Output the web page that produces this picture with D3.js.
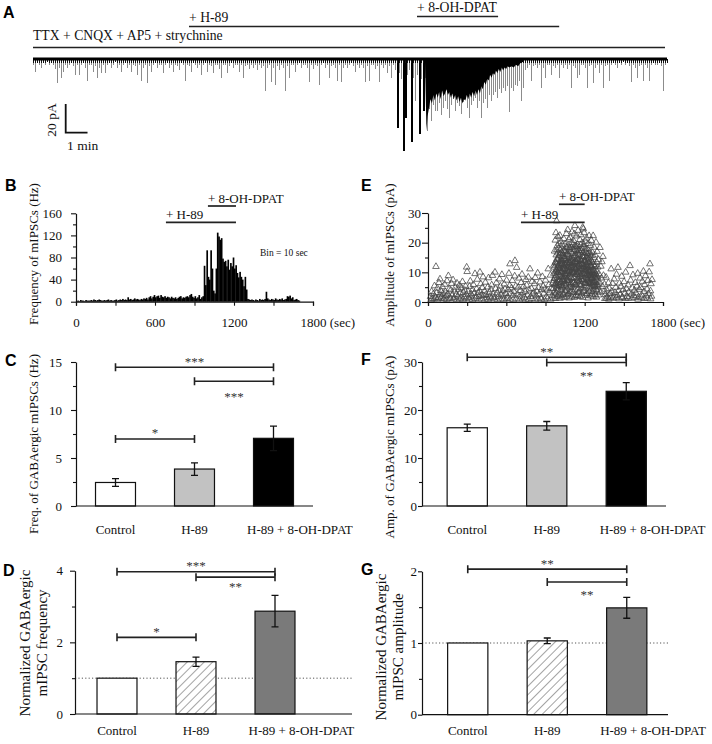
<!DOCTYPE html>
<html><head><meta charset="utf-8">
<script src="https://cdn.jsdelivr.net/npm/d3@7"></script>
<style>body{margin:0;background:#fff}</style>
</head><body><svg id="fig" width="712" height="744"></svg>
<script>
// ---------------- DATA ----------------
// Panel A: deepest downward deflection (pA) in each 5.5 s sample of the trace
const traceDt = 5.5;
const traceDepth = [
4,9,3,4,6,3,4,2,4,3, 4,7,17,6,13,9,4,6,4,3, 5,11,4,11,4,3,6,15,4,4, 9,5,13,6,10,4,10,4,3,6,
4,2,6,4,9,4,3,6,4,9, 4,5,11,4,15,6,4,17,5,9, 4,3,6,4,4,10,4,3,6,4, 9,4,5,8,3,4,15,4,5,9,
3,4,6,4,11,4,3,9,4,5, 10,4,4,7,13,4,4,10,5,3, 6,4,4,9,
4,13,5,4,7,4,6,4,8,4, 6,5,22,6,4,16,6,18,5,8, 4,6,22,5,13,4,4,9,4,3, 6,4,4,6,16,4,7,4,5,18,
4,3,6,4,13,5,4,6,15,4, 16,6,4,6,4,3,5,9,4,6, 4,6,16,5,15,4,4,7,5,16, 4,6,4,10,5,13,4,
8,48,10,14,64,41,11,8,58,13,29,11,52,14,36,13,
50,35,43,32,36,36,31,39,34,29, 35,41,32,28,36,31,33,38,30,28, 34,41,32,29,27,34,29,41,31,28,
34,25,29,25,23,27,21,24,20,22, 19,37,20,22,18,19,15,29,20,
8,6,4,15,5,4,6,4,20,6, 13,4,4,11,5,6,4,13,4,6, 4,7,4,20,5,6,13,11,4,4, 6,20,5,4,17,6,4,10,4,20,
5,4,15,4,3,4,6,3,4,2, 4,3,5,16,4,6,13,5,4,15, 4,6,15,4,3,4,4,3,5,22, 4,3];
// solid (overlapping events) envelope of the burst, time (s) / depth (pA)
const coreT = [1078,1082,1085,1089,1093,1097,1101,1105,1109,1113,1117,1121,1125,1129,1133,1137,1141,1145,1149,1153,
  1157,1161,1165,1169,1173,1177,1181,1185,1189,1193,1197,1201,1205,1209,1213,1217,1221,1225,1229,1233,
  1237,1241,1245,1249,1253,1257,1261,1265,1269,1273,1277,1281,1285,1289,1293,1297,1301,1305,1310,1316,
  1322,1328,1334,1340,1348];
const coreA = [2,50,40,34,28,31,25,29,24,27,23,28,22,26,24,21,25,23,27,24,
  28,25,29,26,30,27,31,28,29,25,28,24,27,23,26,22,25,21,24,19,
  21,16,18,14,15,11,13,10,11,8,10,7,9,6,8,6,7,5,6,5,
  6,4,5,3,2];
const drugA = [
  {label:"+ 8-OH-DPAT", start:1056, end:1279, row:0},
  {label:"+ H-89", start:429, end:1447, row:1},
  {label:"TTX + CNQX + AP5 + strychnine", start:0, end:1738, row:2}];

// Panel B: mIPSC frequency (Hz), 10 s bins from 0 s
const binSize = 10;
const histFreq = [
1,2,1,3,2,2,1,3,2,2, 2,3,2,4,3,2,3,4,3,2, 2,3,2,3,4,2,3,2,2,3, 4,2,3,4,3,5,3,4,3,8,
4,5,3,4,6,4,5,4,3,5, 4,6,5,7,4,8,10,6,9,12, 8,10,11,7,12,9,8,10,7,9, 8,6,9,7,6,8,5,7,9,10,
6,8,7,9,10,8,12,14,9,7, 10,6,8,12,5,
8,10,65,30,93,45,40,93,60,20, 15,60,125,118,112,115,78,72,74,64, 76,58,70,64,80,60,66,52,44,54,
45,40,28,45,22,5,4,
3,4,3,2,4,3,2,5,3,4, 3,5,18,6,4,3,5,4,3,6, 4,3,5,4,6,3,4,5,10,9, 11,6,8,3,4,5,3,2];
const drugB = [{label:"+ 8-OH-DPAT", start:1002, end:1215}, {label:"+ H-89", start:683, end:1215}];
const drugE = [{label:"+ 8-OH-DPAT", start:1003, end:1200}, {label:"+ H-89", start:712, end:1200}];

// Panel E: individual mIPSC events [time (s), amplitude (pA)]
const ampEvents = [
[20,1.5],[28,3.2],[35,0.8],[42,2.4],[50,5.1],[58,1.2],[61,11.6],[66,2.8],[72,4.3],[78,1.0],[84,6.2],[90,2.1],[92,7.4],[98,3.5],
[104,1.4],[110,4.8],[116,2.6],[122,0.9],[128,5.6],[134,3.1],[140,1.8],[146,6.8],[152,2.3],[156,8.5],[162,4.0],[168,1.3],[174,3.7],
[180,5.9],[186,2.0],[192,7.1],[198,1.1],[204,3.3],[210,4.6],[216,2.2],[222,6.0],[228,1.6],[234,3.9],[240,5.3],[246,2.7],[252,1.0],
[258,4.4],[264,6.5],[270,2.9],[276,1.4],[282,3.6],[288,5.0],[294,2.1],[296,11.4],[300,9.9],[306,3.2],[312,1.2],[318,4.9],[324,6.7],
[330,2.4],[336,1.7],[342,3.8],[348,5.5],[354,2.6],[360,9.2],[366,1.3],[372,4.1],[378,7.3],[384,2.8],[390,1.5],[396,3.4],[398,9.7],
[404,5.8],[410,2.0],[416,4.5],[422,8.1],[428,1.8],[434,3.3],[440,6.3],[446,2.2],[452,1.1],[458,4.7],[464,7.8],[470,2.9],[476,1.6],
[482,3.9],[488,5.4],[494,8.6],[500,2.3],[506,1.2],[513,9.7],[518,4.2],[524,6.1],[530,2.7],[536,1.4],[542,3.6],[548,7.4],[554,5.0],
[560,2.1],[566,8.9],[572,3.4],[578,1.7],[584,5.7],[590,4.0],[596,2.5],[602,7.0],[608,1.3],[614,3.8],[620,9.3],[626,5.2],[628,12.5],
[634,2.6],[640,4.4],[646,6.9],[652,1.9],[658,3.2],[664,8.4],[666,13.6],[672,5.0],[679,11.3],[684,2.3],[690,4.6],[696,7.7],[702,1.6],
[708,3.5],[714,6.2],[720,9.0],[726,2.8],[732,4.9],[738,1.2],[744,3.1],[750,7.2],[756,5.3],[762,2.0],[768,8.0],[774,3.7],[781,10.8],
[786,1.5],[792,4.2],[798,6.6],[804,2.4],[810,3.0],[816,5.8],[822,7.9],[828,1.7],[834,3.3],[840,9.4],[846,4.5],[852,2.2],[858,6.4],
[864,1.0],[870,3.9],[876,8.2],[882,5.1],[888,2.6],[894,4.0],[900,7.0],[906,1.4],[912,3.6],[921,10.8],[926,5.5],[932,2.9],[938,8.7],
[944,4.3],[950,1.8],[955,6.0],
[24,0.5],[46,0.7],[70,0.4],[96,0.9],[120,0.6],[144,0.5],[170,0.8],[196,0.6],[220,0.4],[244,0.7],[268,0.5],[292,0.9],[316,0.6],
[340,0.5],[364,0.8],[388,0.4],[412,0.7],[436,0.6],[460,0.5],[484,0.9],[508,0.6],[532,0.4],[556,0.7],[580,0.5],[604,0.8],[628,0.6],
[652,0.5],[676,0.9],[700,0.4],[724,0.7],[748,0.6],[772,0.5],[796,0.8],[820,0.4],[844,0.7],[868,0.6],[892,0.5],[916,0.9],[940,0.6],
[960,4.2],[963,12.0],[966,7.5],[969,16.8],[972,2.3],[975,20.5],[978,9.8],[980,23.0],[983,5.1],[985,27.0],[988,14.2],[990,18.6],
[993,3.4],[995,21.7],[998,11.0],[1000,6.3],[1003,19.4],[1005,15.3],[1008,8.7],[1010,22.1],[1013,1.9],[1015,17.2],[1018,10.4],
[1020,20.0],[1023,4.8],[1025,13.6],[1028,18.9],[1030,7.1],[1033,16.0],[1035,2.6],[1038,11.8],[1040,21.0],[1043,5.7],[1045,14.9],
[1048,9.2],[1050,19.1],[1053,3.0],[1055,16.6],[1058,12.4],[1060,22.7],[1063,6.9],[1065,18.0],[1068,10.1],[1070,24.0],[1073,2.1],
[1075,15.7],[1078,20.8],[1080,8.3],[1083,13.0],[1085,17.9],[1088,4.5],[1090,21.4],[1093,11.2],[1095,6.1],[1098,19.7],[1100,14.6],
[1103,23.3],[1105,3.6],[1108,9.5],[1110,17.4],[1113,12.7],[1115,20.3],[1118,7.8],[1120,22.6],[1123,15.2],[1125,25.4],[1128,1.7],
[1130,10.8],[1133,18.4],[1135,5.3],[1138,21.9],[1140,13.3],[1143,8.9],[1145,19.0],[1148,16.1],[1150,23.8],[1153,2.8],[1155,11.5],
[1158,17.0],[1160,6.6],[1163,20.7],[1165,14.1],[1168,9.0],[1170,22.3],[1173,4.0],[1175,16.9],[1178,12.2],[1180,19.6],[1183,7.2],
[1185,24.8],[1188,15.0],[1189,24.3],[1192,3.3],[1194,18.2],[1196,23.0],[1199,10.6],[1201,13.8],[1204,20.1],[1206,5.9],[1209,16.4],
[1211,11.1],[1214,21.2],[1216,8.0],[1219,17.6],[1221,2.4],[1224,14.4],[1226,19.3],[1229,6.8],[1231,12.9],[1234,22.0],[1236,9.7],
[1239,15.8],[1241,4.6],[1244,18.7],[1246,11.9],[1249,7.5],[1251,20.4],[1254,13.5],[1256,3.1],[1259,16.3],[1261,9.4],[1265,22.0],
[1267,6.2],[1270,14.7],[1272,18.1],[1275,10.3],[1277,5.0],[1280,15.5],[1282,12.1],[1285,8.4],[1287,19.8],[1290,3.8],[1292,13.1],
[1295,16.7],[1297,7.0],[1300,11.4],[1303,4.4],[1306,14.0],[1310,9.1],[1313,6.4],[1317,18.0],[1320,2.9],[1324,11.7],[1328,7.7],
[1332,13.2],[1336,4.9],[1340,15.0],[1344,8.6],[1348,3.2],
[962,1.0],[967,3.0],[971,5.5],[976,0.8],[981,2.7],[986,6.0],[991,1.5],[996,4.1],[1001,2.0],[1006,5.2],[1011,0.9],[1016,3.8],
[1021,6.4],[1026,1.3],[1031,4.6],[1036,2.2],[1041,7.3],[1046,1.1],[1051,3.5],[1056,5.8],[1061,1.6],[1066,4.0],[1071,6.9],[1076,2.5],
[1081,1.0],[1086,5.0],[1091,3.2],[1096,7.9],[1101,1.4],[1106,4.7],[1111,2.8],[1116,6.2],[1121,1.2],[1126,3.9],[1131,5.6],[1136,2.0],
[1141,7.6],[1146,1.8],[1151,4.3],[1156,3.0],[1161,6.7],[1166,1.5],[1171,5.1],[1176,2.6],[1181,8.2],[1186,1.2],[1191,4.4],[1196,3.4],
[1201,6.0],[1206,1.9],[1211,5.3],[1216,2.4],[1221,7.1],[1226,1.0],[1231,4.8],[1236,3.1],[1241,6.5],[1246,1.7],[1251,4.1],[1256,2.3],
[1261,5.7],[1266,1.4],[1271,3.6],[1276,6.3],[1281,2.1],[1286,4.9],[1291,1.3],[1296,3.3],[1301,5.4],[1306,2.0],
[977,8.5],[979,12.8],[982,15.5],[984,10.2],[987,17.3],[989,8.0],[992,13.9],[994,16.2],[997,9.6],[999,14.8],[1002,12.1],[1004,17.8],
[1007,10.9],[1009,13.2],[1012,15.9],[1014,11.5],[1017,8.2],[1019,14.0],[1022,16.4],[1024,9.9],[1027,12.6],[1029,15.0],[1032,10.7],
[1034,13.5],[1037,17.0],[1039,8.8],[1042,12.3],[1044,16.9],[1047,11.0],[1049,14.3],[1052,9.1],[1054,13.8],[1057,18.2],[1059,10.5],
[1062,15.6],[1064,12.9],[1067,16.1],[1069,9.4],[1072,13.7],[1074,18.8],[1077,11.3],[1079,15.1],[1082,10.0],[1084,17.5],[1087,12.8],
[1089,9.0],[1092,16.7],[1094,14.2],[1097,11.7],[1099,18.0],[1102,10.2],[1104,13.4],[1107,16.0],[1109,12.0],[1112,19.2],[1114,9.8],
[1117,14.9],[1119,17.2],[1122,11.4],[1124,13.0],[1127,18.6],[1129,10.6],[1132,15.4],[1134,12.5],[1137,16.8],[1139,9.5],[1142,14.5],
[1144,18.3],[1147,11.8],[1149,13.9],[1152,17.1],[1154,9.9],[1157,15.7],[1159,12.2],[1162,16.5],[1164,10.4],[1167,14.0],[1169,18.9],
[1172,11.1],[1174,13.6],[1177,17.7],[1179,9.3],[1182,15.0],[1184,12.7],[1187,16.3],[1190,10.8],[1193,14.6],[1195,19.0],[1198,11.6],
[1200,15.2],[1203,9.7],[1205,13.1],[1208,17.4],[1210,10.2],[1213,14.8],[1215,12.4],[1218,16.0],[1220,9.2],[1223,13.3],[1225,15.9],
[1228,11.0],[1230,14.1],[1233,8.7],[1235,12.8],[1238,16.6],[1240,10.1],[1243,13.9],[1245,8.5],[1248,12.0],[1250,15.3],[1253,9.6],
[1255,11.4],[1258,7.9],[1260,13.0],[1263,10.5],[1268,12.2],[1273,8.9],[1278,11.6],[1283,9.3],[1288,7.4],[1293,10.0],[1298,8.1],
[961,6.8],[964,9.3],[968,11.4],[973,7.7],[976,13.1],[979,5.9],[982,10.6],[986,12.4],[989,4.7],[992,9.8],[996,7.3],[999,11.9],
[1002,5.4],[1006,10.3],[1009,7.0],[1012,12.7],[1016,6.1],[1019,9.5],[1022,13.4],[1026,8.1],[1029,5.2],[1032,11.2],[1036,7.9],
[1039,14.1],[1042,6.6],[1046,10.8],[1049,8.4],[1052,12.0],[1056,5.0],[1059,9.1],[1062,13.0],[1066,7.4],[1069,11.6],[1072,6.3],
[1076,9.9],[1079,12.6],[1082,7.1],[1086,10.4],[1089,13.7],[1092,5.6],[1096,9.4],[1099,12.2],[1102,7.6],[1106,11.0],[1109,14.4],
[1112,6.0],[1116,9.7],[1119,12.9],[1122,8.0],[1126,10.9],[1129,5.8],[1132,13.3],[1136,9.0],[1139,11.3],[1142,6.9],[1146,10.1],
[1149,14.0],[1152,7.8],[1156,9.6],[1159,12.5],[1162,5.5],[1166,11.8],[1169,8.3],[1172,13.6],[1176,7.2],[1179,10.7],[1182,12.3],
[1186,6.4],[1189,9.2],[1192,11.5],[1196,7.5],[1199,13.5],[1202,8.8],[1206,10.5],[1209,6.2],[1212,12.1],[1216,9.1],[1219,7.0],
[1222,11.2],[1226,8.6],[1229,10.0],[1232,5.9],[1236,9.8],[1239,7.3],[1242,11.7],[1246,6.0],[1249,9.0],[1252,7.7],[1256,10.2],
[1259,5.3],[1262,8.4],[1266,6.7],[1270,9.3],[1274,5.1],[1279,7.9],[1284,6.2],[1289,8.8],[1294,5.6],
[1352,5.6],[1358,2.1],[1364,8.0],[1370,3.7],[1376,1.4],[1382,6.1],[1388,4.2],[1394,2.5],[1403,10.8],[1408,3.3],[1414,5.9],[1420,1.6],
[1426,7.4],[1432,2.8],[1438,4.6],[1444,9.0],[1450,1.9],[1455,11.3],[1460,3.5],[1466,6.0],[1472,2.2],[1478,4.9],[1484,8.3],[1490,1.2],
[1496,3.8],[1502,6.5],[1508,2.6],[1514,9.7],[1520,4.1],[1526,1.5],[1532,5.4],[1538,3.0],[1547,11.9],[1552,7.0],[1558,2.3],[1564,4.4],
[1570,8.8],[1576,1.8],[1582,3.6],[1588,6.2],[1594,2.7],[1600,5.0],[1606,9.3],[1612,1.4],[1618,3.9],[1624,7.7],[1630,4.5],[1636,2.0],
[1642,6.6],[1650,10.0],[1655,3.2],[1660,5.5],[1666,8.5],[1672,1.7],[1678,4.0],[1684,6.9],[1690,2.4],[1694,9.8],[1700,12.5],[1704,3.4],
[1708,5.8],[1712,1.6],[1716,7.2],
[1355,0.8],[1367,1.0],[1385,0.6],[1399,1.2],[1417,0.9],[1441,1.1],[1463,0.7],[1487,1.3],[1511,0.8],[1535,1.0],[1561,0.9],[1585,1.2],
[1609,0.6],[1633,1.1],[1657,0.8],[1681,1.0],[1705,0.7]];

// Bar panels
const categories = ["Control", "H-89", "H-89 + 8-OH-DPAT"];
const freqMean = [2.45, 3.85, 7.05], freqErr = [0.4, 0.65, 1.28];
const ampMean = [16.3, 16.7, 23.9], ampErr = [0.75, 0.9, 1.8];
const normFreqMean = [1.0, 1.46, 2.87], normFreqErr = [0, 0.13, 0.44];
const normAmpMean = [1.0, 1.03, 1.49], normAmpErr = [0, 0.04, 0.145];
const sigFreq = [{a:0,b:2,level:14.45,stars:"***",pos:"above"},{a:1,b:2,level:13.0,stars:"***",pos:"below"},{a:0,b:1,level:6.98,stars:"*",pos:"above"}];
const sigAmp = [{a:0,b:2,level:31.0,stars:"**",pos:"above"},{a:1,b:2,level:29.9,stars:"**",pos:"below"}];
const sigNormFreq = [{a:0,b:2,level:3.97,stars:"***",pos:"above"},{a:1,b:2,level:3.82,stars:"**",pos:"below"},{a:0,b:1,level:2.14,stars:"*",pos:"above"}];
const sigNormAmp = [{a:0,b:2,level:2.03,stars:"**",pos:"above"},{a:1,b:2,level:1.85,stars:"**",pos:"below"}];

// ---------------- DRAWING ----------------
const svg = d3.select("#fig");
const SERIF = '"Liberation Serif","Times New Roman",Times,serif';
const SANS = '"Liberation Sans",Arial,sans-serif';
const INK = "#111";

function text(g, x, y, s, size, anchor) {
  return g.append("text").attr("x", x).attr("y", y).attr("font-family", SERIF)
    .attr("font-size", size).attr("fill", INK).attr("text-anchor", anchor || "start").text(s);
}
function vtext(g, x, y, s, size) {
  return g.append("text").attr("transform", `translate(${x},${y}) rotate(-90)`)
    .attr("dy", "0.35em").attr("font-family", SERIF).attr("font-size", size)
    .attr("fill", INK).attr("text-anchor", "middle").text(s);
}
function letter(x, y, s) {
  svg.append("text").attr("x", x).attr("y", y).attr("font-family", SANS).attr("font-weight", "bold")
    .attr("font-size", 16).attr("fill", "#000").text(s);
}
function hline(g, x1, x2, y, w, col) {
  g.append("line").attr("x1", x1).attr("x2", x2).attr("y1", y).attr("y2", y)
    .attr("stroke", col || "#222").attr("stroke-width", w || 1.5);
}
function styleAxis(sel, size) {
  sel.selectAll("text").attr("font-family", SERIF).attr("font-size", size || 13).attr("fill", INK);
  sel.selectAll("path.domain").attr("stroke", "#111").attr("stroke-width", 1.2);
  sel.selectAll(".tick line").attr("stroke", "#111").attr("stroke-width", 1.1);
}

const defs = svg.append("defs");
const pat = defs.append("pattern").attr("id", "hatch").attr("patternUnits", "userSpaceOnUse")
  .attr("width", 6).attr("height", 6).attr("patternTransform", "rotate(45)");
pat.append("rect").attr("width", 6).attr("height", 6).attr("fill", "#fff");
pat.append("line").attr("x1", 0).attr("y1", 0).attr("x2", 0).attr("y2", 6).attr("stroke", "#333").attr("stroke-width", 0.9);

// ===== Panel A =====
letter(3, 18, "A");
const gA = svg.append("g");
const tx = d3.scaleLinear().domain([0, (traceDepth.length - 1) * traceDt]).range([33, 667]);
const ty = d3.scaleLinear().domain([0, 20]).range([59, 59 + 28.7]);
const rowY = [16.5, 26.5, 47.5];
drugA.forEach(d => {
  hline(gA, tx(d.start), tx(d.end), rowY[d.row], 1.6);
  text(gA, tx(d.start), rowY[d.row] - (d.row === 2 ? 7.5 : 5), d.label, 13.7);
});
const inCore = t => t >= coreT[0] && t <= coreT[coreT.length - 1];
const big = (d, i) => !inCore(i * traceDt) && d >= 30;
const px = i => Math.round(tx(i * traceDt)) + 0.5;
gA.append("g").selectAll("line").data(traceDepth).join("line")
  .attr("x1", (d, i) => px(i)).attr("x2", (d, i) => px(i))
  .attr("y1", ty(0)).attr("y2", d => ty(d))
  .attr("shape-rendering", "crispEdges")
  .attr("stroke", (d, i) => big(d, i) ? "#000" : "#8c8c8c")
  .attr("stroke-width", (d, i) => big(d, i) ? 2 : 1);
// dark upper part of each event, next to the baseline
gA.append("g").selectAll("line").data(traceDepth).join("line")
  .attr("x1", (d, i) => px(i)).attr("x2", (d, i) => px(i))
  .attr("y1", ty(0)).attr("y2", d => ty(Math.min(d, 3)))
  .attr("shape-rendering", "crispEdges").attr("stroke", "#111").attr("stroke-width", 1);
gA.append("path").datum(coreT.map((t, i) => [t, coreA[i]]))
  .attr("d", d3.area().x(d => tx(d[0])).y0(ty(0)).y1(d => ty(d[1])))
  .attr("fill", "#000");
hline(gA, tx(0), tx((traceDepth.length - 1) * traceDt), ty(0), 3, "#000");
// scale bar 20 pA / 1 min
const sbX = 65.7, sbY = 132.7;
gA.append("path").attr("d", `M${sbX},${sbY - (ty(20) - ty(0))}V${sbY}H${sbX + tx(60) - tx(0)}`)
  .attr("fill", "none").attr("stroke", "#111").attr("stroke-width", 1.8);
vtext(gA, 51, 120, "20 pA", 13.5);
text(gA, 67, 150, "1 min", 13.5);

// ===== Panel B =====
letter(5, 191, "B");
const gB = svg.append("g");
const xB = d3.scaleLinear().domain([0, 1800]).range([76, 313]);
const yB = d3.scaleLinear().domain([0, 160]).range([301.7, 213.3]);
gB.append("g").selectAll("rect").data(histFreq).join("rect")
  .attr("x", (d, i) => xB(i * binSize)).attr("width", xB(binSize) - xB(0) + 0.35)
  .attr("y", d => yB(d)).attr("height", d => yB(0) - yB(d)).attr("fill", "#000");

function timeAxes(g, x, y, yMajor, yMinor, tickLen, pad) {
  const ax = g.append("g").attr("transform", `translate(0,${y.range()[0]})`)
    .call(d3.axisBottom(x).tickValues([0, 300, 600, 900, 1200, 1500, 1800]).tickSizeOuter(0)
      .tickSize(4).tickPadding(11.8).tickFormat(d => d % 600 === 0 ? String(d) : ""));
  styleAxis(ax);
  ax.selectAll(".tick").filter(d => d === 1800).select("text")
    .attr("text-anchor", "start").attr("dx", "-13").text("1800 (sec)");
  const ay = g.append("g").attr("transform", `translate(${x.range()[0]},0)`)
    .call(d3.axisLeft(y).tickValues(yMajor).tickSize(tickLen).tickPadding(pad).tickSizeOuter(0).tickFormat(d3.format("d")));
  styleAxis(ay);
  const am = g.append("g").attr("transform", `translate(${x.range()[0]},0)`)
    .call(d3.axisLeft(y).tickValues(yMinor).tickSize(3).tickFormat(""));
  am.select("path.domain").remove();
  styleAxis(am);
}
timeAxes(gB, xB, yB, [0, 40, 80, 120, 160], [20, 60, 100, 140], 5, 9);
vtext(gB, 33.5, 254, "Frequency of mIPSCs (Hz)", 13);
const drugLineB = [206, 222.3];
drugB.forEach((d, i) => {
  hline(gB, xB(d.start), xB(d.end), drugLineB[i], 1.7);
  text(gB, xB(d.start), drugLineB[i] - 3, d.label, 13);
});
text(gB, 260, 256, "Bin = 10 sec", 9.5);

// ===== Panel E =====
letter(361, 191, "E");
const gE = svg.append("g");
const xE = d3.scaleLinear().domain([0, 1800]).range([428, 663]);
const yE = d3.scaleLinear().domain([0, 30]).range([302, 213]);
timeAxes(gE, xE, yE, [0, 10, 20, 30], [5, 15, 25], 6, 1);
gE.append("g").selectAll("path").data(ampEvents).join("path")
  .attr("d", d3.symbol(d3.symbolTriangle, 19))
  .attr("transform", d => `translate(${xE(d[0])},${yE(d[1]) - 1})`)
  .attr("fill", "none").attr("stroke", "#444").attr("stroke-width", 0.75);
vtext(gE, 389, 255, "Amplitude of mIPSCs (pA)", 13);
const drugLineE = [204.3, 222.3];
drugE.forEach((d, i) => {
  hline(gE, xE(d.start), xE(d.end), drugLineE[i], 1.7);
  text(gE, xE(d.start), drugLineE[i] - 3, d.label, 13);
});

// ===== Bar panels =====
function barPanel(o) {
  const g = svg.append("g");
  const x = d3.scaleBand().domain(categories).range(o.band).paddingInner(0.494).paddingOuter(0.247);
  const y = d3.scaleLinear().domain([0, o.yMax]).range([o.y0, o.yTop]);
  if (o.dotted) {
    g.append("line").attr("x1", o.axisX).attr("x2", o.axisEnd).attr("y1", y(1)).attr("y2", y(1))
      .attr("stroke", "#555").attr("stroke-width", 1).attr("stroke-dasharray", "1.2,2.2");
  }
  g.append("g").selectAll("rect").data(o.means).join("rect")
    .attr("x", (d, i) => x(categories[i])).attr("width", x.bandwidth())
    .attr("y", d => y(d)).attr("height", d => y(0) - y(d))
    .attr("fill", (d, i) => o.fills[i]).attr("stroke", "#111").attr("stroke-width", 1.2);
  o.means.forEach((m, i) => {
    const e = o.errs[i];
    if (!e) return;
    const cx = x(categories[i]) + x.bandwidth() / 2;
    g.append("path").attr("d",
      `M${cx},${y(m - e)}V${y(m + e)}M${cx - 3.5},${y(m + e)}H${cx + 3.5}M${cx - 3.5},${y(m - e)}H${cx + 3.5}`)
      .attr("stroke", "#111").attr("stroke-width", 1.3).attr("fill", "none");
  });
  const ay = g.append("g").attr("transform", `translate(${o.axisX},0)`)
    .call(d3.axisLeft(y).tickValues(o.major).tickSize(o.tick).tickPadding(o.pad).tickSizeOuter(0).tickFormat(d3.format("d")));
  styleAxis(ay);
  const am = g.append("g").attr("transform", `translate(${o.axisX},0)`)
    .call(d3.axisLeft(y).tickValues(o.minor).tickSize(3).tickFormat(""));
  am.select("path.domain").remove();
  styleAxis(am);
  g.append("line").attr("x1", o.axisX).attr("x2", o.axisEnd).attr("y1", y(0)).attr("y2", y(0))
    .attr("stroke", "#111").attr("stroke-width", 1.2);
  categories.forEach((c, i) => {
    if (i < 2) text(g, x(c) + x.bandwidth() / 2, o.catY, c, 13, "middle");
    else text(g, x(c) - 6.5, o.catY, c, 13, "start");
  });
  o.sig.forEach(s => {
    const xa = x(categories[s.a]) + x.bandwidth() / 2, xb = x(categories[s.b]) + x.bandwidth() / 2;
    const yy = y(s.level);
    g.append("path").attr("d", `M${xa},${yy - 4}V${yy + 4}M${xa},${yy}H${xb}M${xb},${yy - 4}V${yy + 4}`)
      .attr("stroke", "#222").attr("stroke-width", 1.6).attr("fill", "none");
    g.append("text").attr("x", (xa + xb) / 2).attr("y", s.pos === "above" ? yy - 1.5 : yy + o.below)
      .attr("text-anchor", "middle").attr("font-family", SERIF).attr("font-size", 13)
      .attr("fill", "#333").text(s.stars);
  });
  o.ylab.forEach((l, i) => vtext(g, o.ylabX[i], o.ylabY, l, o.ylabSize));
}

letter(5, 366, "C");
barPanel({band: [76, 313], axisX: 76, axisEnd: 313, y0: 506, yTop: 362, yMax: 15,
  major: [0, 5, 10, 15], minor: [2.5, 7.5, 12.5], tick: 5, pad: 9,
  means: freqMean, errs: freqErr, fills: ["#fff", "#c2c2c2", "#000"], sig: sigFreq, below: 20,
  catY: 534, ylab: ["Freq. of GABAergic mIPSCs (Hz)"], ylabX: [33], ylabY: 444, ylabSize: 13});

letter(361, 365, "F");
barPanel({band: [427.5, 666], axisX: 422, axisEnd: 666, y0: 506, yTop: 362, yMax: 30,
  major: [0, 10, 20, 30], minor: [5, 15, 25], tick: 4, pad: 1,
  means: ampMean, errs: ampErr, fills: ["#fff", "#c2c2c2", "#000"], sig: sigAmp, below: 18,
  catY: 534, ylab: ["Amp. of GABAergic mIPSCs (pA)"], ylabX: [389], ylabY: 447, ylabSize: 13});

letter(3, 576, "D");
barPanel({band: [77.5, 314.5], axisX: 75, axisEnd: 352, y0: 714, yTop: 570.7, yMax: 4,
  major: [0, 2, 4], minor: [1, 3], tick: 5, pad: 7, dotted: true,
  means: normFreqMean, errs: normFreqErr, fills: ["#fff", "url(#hatch)", "#7a7a7a"], sig: sigNormFreq, below: 14,
  catY: 735, ylab: ["Normalized GABAergic", "mIPSC frequency"], ylabX: [25, 42], ylabY: 643, ylabSize: 15});

letter(361, 575, "G");
barPanel({band: [428, 666.5], axisX: 422, axisEnd: 668, y0: 714.7, yTop: 571.3, yMax: 2,
  major: [0, 1, 2], minor: [0.5, 1.5], tick: 4, pad: 1, dotted: true,
  means: normAmpMean, errs: normAmpErr, fills: ["#fff", "url(#hatch)", "#7a7a7a"], sig: sigNormAmp, below: 17,
  catY: 735, ylab: ["Normalized GABAergic", "mIPSC amplitude"], ylabX: [381, 398], ylabY: 647, ylabSize: 15});
</script></body></html>
